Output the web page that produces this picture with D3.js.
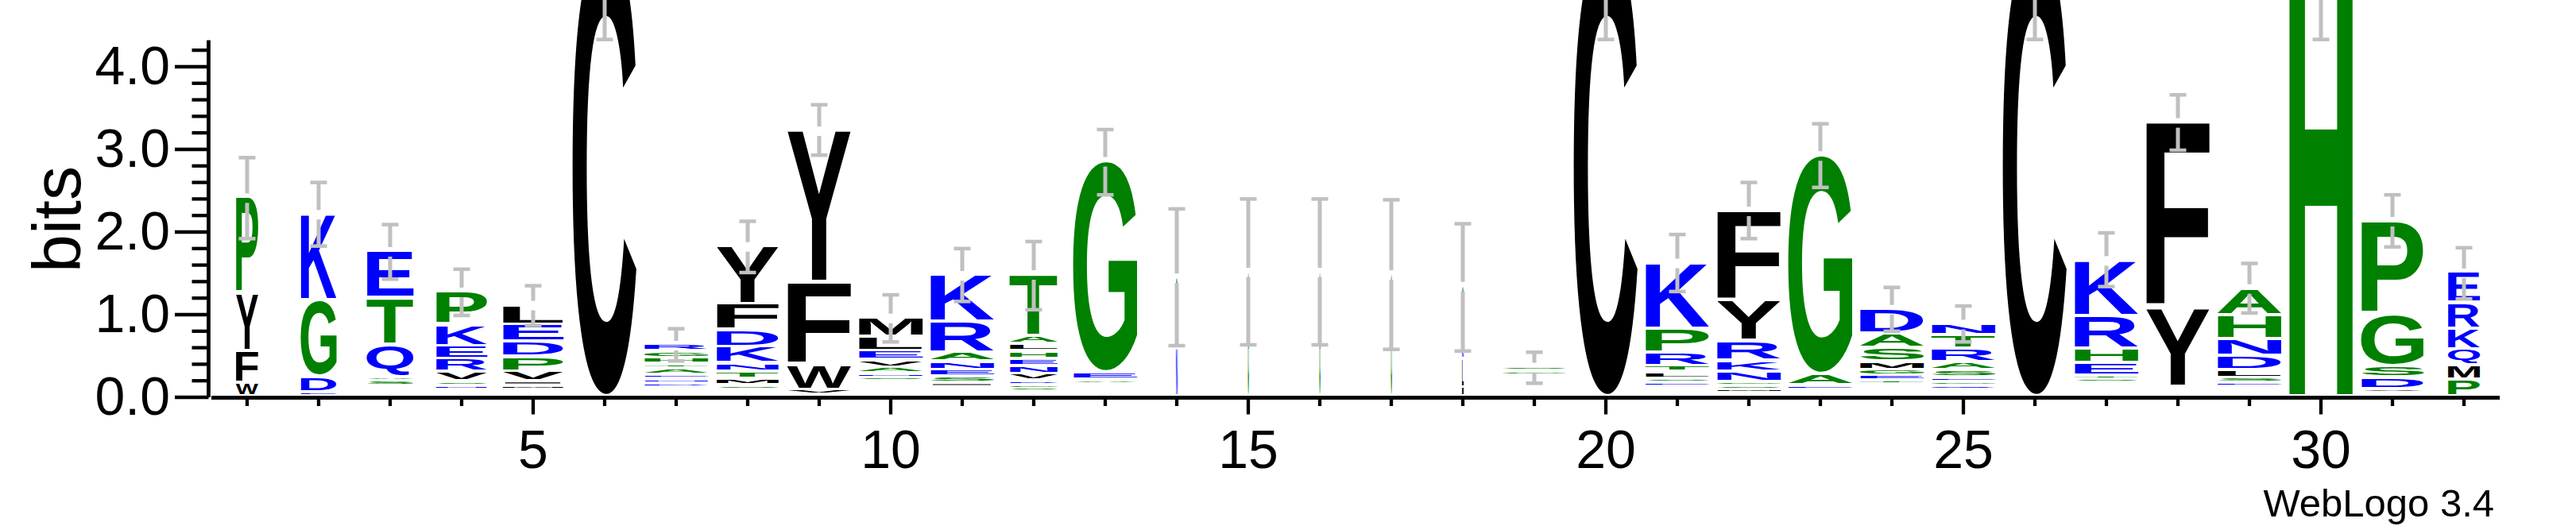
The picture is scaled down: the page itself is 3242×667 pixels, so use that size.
<!DOCTYPE html>
<html>
<head>
<meta charset="utf-8">
<script src="https://cdn.jsdelivr.net/npm/d3@7"></script>
<style>
html, body { margin: 0; padding: 0; background: #ffffff; }
svg { display: block; }
</style>
</head>
<body>
<svg id="chart" width="3242" height="667"></svg>
<script>
const positions = [1,2,3,4,5,6,7,8,9,10,11,12,13,14,15,16,17,18,19,20,21,22,23,24,25,26,27,28,29,30,31,32];

// letters of each stack, bottom -> top
const stackLetters = [
  "WFYP", "EDGK", "SAQTE", "NSVREKP", "MIVPDEL", "C", "DNEATHGR", "SMTNKDFY",
  "VWFY", "SNAVELM", "ISENARK", "SGDVNEHLAT", "AEG", "NG", "G", "G",
  "G", "ILNG", "GS", "C", "ESLTRPK", "MSGNKRYF", "EAG", "TEGMSAD",
  "QGESARTN", "C", "STEHRK", "YF", "ESLDNHA", "H", "VDSGP", "PMQKRE"
];

// letter heights in bits, bottom -> top
const stackHeights = [
  [0.16, 0.385, 0.695, 1.17],
  [0.05, 0.19, 0.92, 1.05],
  [0.06, 0.05, 0.395, 0.565, 0.57],
  [0.04, 0.05, 0.115, 0.155, 0.16, 0.255, 0.405],
  [0.04, 0.05, 0.12, 0.18, 0.18, 0.21, 0.24],
  [5.5],
  [0.05, 0.048, 0.055, 0.074, 0.053, 0.075, 0.08, 0.08],
  [0.04, 0.08, 0.085, 0.105, 0.20, 0.20, 0.32, 0.70],
  [0.06, 0.30, 1.005, 1.835],
  [0.035, 0.055, 0.07, 0.09, 0.11, 0.17, 0.235],
  [0.04, 0.08, 0.08, 0.10, 0.11, 0.37, 0.57],
  [0.03, 0.035, 0.055, 0.08, 0.10, 0.085, 0.09, 0.09, 0.095, 0.75],
  [0.05, 0.09, 2.56],
  [0.59, 0.85],
  [1.51],
  [1.51],
  [1.48],
  [0.11, 0.34, 0.09, 0.80],
  [0.05, 0.055],
  [5.5],
  [0.04, 0.055, 0.08, 0.075, 0.16, 0.29, 0.80],
  [0.03, 0.05, 0.045, 0.125, 0.13, 0.24, 0.49, 1.09],
  [0.04, 0.14, 2.65],
  [0.04, 0.06, 0.07, 0.10, 0.17, 0.17, 0.30],
  [0.04, 0.055, 0.055, 0.09, 0.095, 0.165, 0.16, 0.14],
  [5.5],
  [0.04, 0.04, 0.15, 0.18, 0.39, 0.68],
  [0.95, 2.25],
  [0.04, 0.06, 0.10, 0.17, 0.20, 0.29, 0.33],
  [5.45],
  [0.04, 0.136, 0.144, 0.625, 1.13],
  [0.20, 0.18, 0.19, 0.25, 0.31, 0.37]
];

// total height (bits) of letters too small to be visible at the bottom of each stack
const hiddenBits = [
  0, 0, 0.12, 0.09, 0.09, 0, 0.11, 0.09, 0.02, 0.19, 0.12, 0.07, 0.15, 0, 0, 0,
  0, 0, 0.255, 0, 0.12, 0.05, 0.09, 0.15, 0.08, 0, 0.17, 0.12, 0.12, 0, 0.05, 0
];

// stack width as a fraction of a full stack (non-gap fraction)
const widthFraction = [
  0.35, 0.56, 0.73, 0.80, 0.95, 1, 1, 0.975, 1, 1, 1, 0.75, 1, 0.025, 0.018, 0.018,
  0.018, 0.025, 1, 1, 1, 1, 1, 1, 1, 1, 1, 1, 1, 1, 0.975, 0.5
];

// error bar ends (bits)
const errorLow = [
  1.92, 1.83, 1.43, 0.99, 0.87, 4.33, 0.44, 1.51, 2.93, 0.67, 1.16, 1.06, 2.45, 0.625, 0.635, 0.635,
  0.58, 0.56, 0.17, 4.33, 1.28, 1.92, 2.54, 0.80, 0.67, 4.33, 1.34, 2.99, 1.02, 4.33, 1.82, 1.19
];
const errorHigh = [
  2.90, 2.60, 2.09, 1.55, 1.35, 6.67, 0.83, 2.13, 3.54, 1.24, 1.80, 1.885, 3.24, 2.28, 2.40, 2.40,
  2.39, 2.10, 0.545, 6.67, 1.97, 2.60, 3.31, 1.33, 1.105, 6.67, 1.99, 3.66, 1.62, 6.57, 2.45, 1.81
];

const yMajorTicks = [0, 1, 2, 3, 4];
const yMinorTicks = [0.2, 0.4, 0.6, 0.8, 1.2, 1.4, 1.6, 1.8, 2.2, 2.4, 2.6, 2.8, 3.2, 3.4, 3.6, 3.8, 4.2];
const xMajorTicks = [5, 10, 15, 20, 25, 30];
const yMax = 4.32;
const yLabel = "bits";
const creditText = "WebLogo 3.4";

// hydrophobicity colour scheme
const colourGroups = [
  { residues: "RKDENQ", colour: "#0000ff" },
  { residues: "SGHTAP", colour: "#008000" },
  { residues: "YVMCLFIW", colour: "#000000" }
];

// ---------------- DRAWING ----------------
const svg = d3.select("#chart");
svg.append("rect").attr("width", 3242).attr("height", 667).attr("fill", "#ffffff");

const x = d3.scaleLinear().domain([0.5, 32.5]).range([266, 3146]);
const y = d3.scaleLinear().domain([0, yMax]).range([500, 500 - 104 * yMax]);
const step = x(1) - x(0);
const fullWidth = step * 0.9;

function colourOf(ch) {
  for (const g of colourGroups) if (g.residues.includes(ch)) return g.colour;
  return "#000000";
}

const glyphFont = "'Liberation Sans', Arial, sans-serif";
const canvas = document.createElement("canvas");
const ctx = canvas.getContext("2d");
ctx.font = "bold 100px 'Liberation Sans'";
const metricCache = {};
function metrics(ch) {
  if (!metricCache[ch]) {
    const m = ctx.measureText(ch);
    metricCache[ch] = {
      left: m.actualBoundingBoxLeft,
      right: m.actualBoundingBoxRight,
      asc: m.actualBoundingBoxAscent,
      desc: m.actualBoundingBoxDescent
    };
  }
  return metricCache[ch];
}

const letterLayer = svg.append("g");
const stackTops = [];

positions.forEach((p, i) => {
  const cx = x(p);
  const bw = fullWidth * widthFraction[i];
  let base = hiddenBits[i];
  const letters = stackLetters[i];
  stackHeights[i].forEach((h, j) => {
    const ch = letters[j];
    const top = y(base + h);
    const bottom = y(base);
    base += h;
    const slot = bottom - top;
    const ink = Math.max(slot * 0.25, slot - 4);
    if (ink < 0.4) return;
    const m = metrics(ch);
    const sx = bw / (m.left + m.right);
    const sy = ink / (m.asc + m.desc);
    letterLayer.append("text")
      .text(ch)
      .attr("font-family", glyphFont)
      .attr("font-weight", "bold")
      .attr("font-size", 100)
      .attr("fill", colourOf(ch))
      .attr("transform", `translate(${cx - bw / 2},${top}) scale(${sx},${sy}) translate(${m.left},${m.asc})`);
  });
  stackTops.push(base);
});

// error bars
const errLayer = svg.append("g").attr("fill", "#c0c0c0");
const gapPx = 6, barW = 5, capW = 21, capH = 4.5;
positions.forEach((p, i) => {
  const cx = x(p);
  const t = y(stackTops[i]);
  const hi = y(errorHigh[i]);
  const lo = y(errorLow[i]);
  if (t - gapPx > hi) {
    errLayer.append("rect").attr("x", cx - barW / 2).attr("y", hi).attr("width", barW).attr("height", t - gapPx - hi);
  }
  errLayer.append("rect").attr("x", cx - capW / 2).attr("y", hi - capH / 2).attr("width", capW).attr("height", capH);
  if (lo > t + gapPx) {
    errLayer.append("rect").attr("x", cx - barW / 2).attr("y", t + gapPx).attr("width", barW).attr("height", lo - t - gapPx);
  }
  errLayer.append("rect").attr("x", cx - capW / 2).attr("y", lo - capH / 2).attr("width", capW).attr("height", capH);
});

// axes
const labelFont = "'Liberation Sans', Arial, sans-serif";

function styleAxis(g, width) {
  g.selectAll("path.domain").attr("stroke", "#000").attr("stroke-width", width);
  g.selectAll(".tick line").attr("stroke", "#000").attr("stroke-width", 4.3);
  g.selectAll(".tick text").attr("font-family", labelFont).attr("font-size", 68).attr("fill", "#000");
}

const yAxisMajor = d3.axisLeft(y).tickValues(yMajorTicks).tickSize(42.5).tickSizeOuter(0)
  .tickPadding(6).tickFormat(d3.format(".1f")).offset(0);
const yAxisMinor = d3.axisLeft(y).tickValues(yMinorTicks).tickSize(21).tickSizeOuter(0)
  .tickFormat("").offset(0);

const gyMinor = svg.append("g").attr("transform", "translate(262.5,0)").call(yAxisMinor);
styleAxis(gyMinor, 4.3);
const gyMajor = svg.append("g").attr("transform", "translate(262.5,0)").call(yAxisMajor);
styleAxis(gyMajor, 4.3);

const xMinorTicks = positions.filter(p => !xMajorTicks.includes(p));
const xAxisMinor = d3.axisBottom(x).tickValues(xMinorTicks).tickSize(10.5).tickSizeOuter(0)
  .tickFormat("").offset(0);
const xAxisMajor = d3.axisBottom(x).tickValues(xMajorTicks).tickSize(21).tickSizeOuter(0)
  .tickPadding(19.5).tickFormat(d3.format("d")).offset(0);

const gxMinor = svg.append("g").attr("transform", "translate(0,500.5)").call(xAxisMinor);
styleAxis(gxMinor, 4.4);
const gxMajor = svg.append("g").attr("transform", "translate(0,500.5)").call(xAxisMajor);
styleAxis(gxMajor, 4.4);

// y label
svg.append("text")
  .attr("transform", "translate(100.7,276) rotate(-90)")
  .attr("text-anchor", "middle")
  .attr("font-family", labelFont)
  .attr("font-size", 86)
  .attr("fill", "#000")
  .text(yLabel);

// credit
svg.append("text")
  .attr("x", 3139)
  .attr("y", 650)
  .attr("text-anchor", "end")
  .attr("font-family", labelFont)
  .attr("font-size", 49)
  .attr("fill", "#000")
  .text(creditText);
</script>
</body>
</html>
